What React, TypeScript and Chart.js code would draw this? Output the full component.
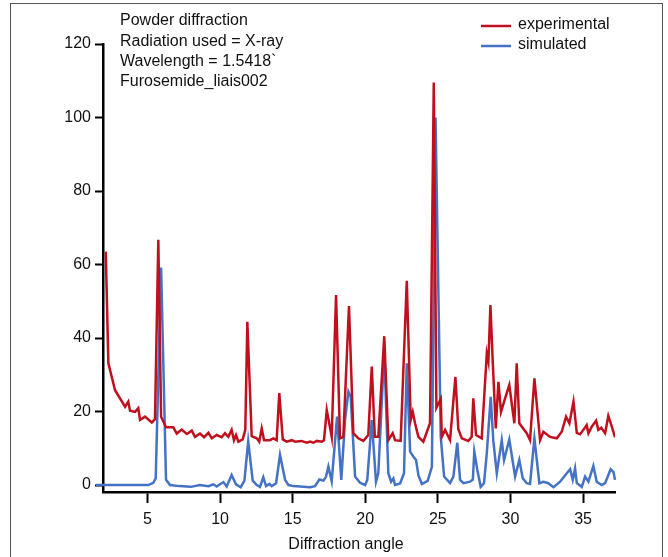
import React, { useEffect, useRef } from "react";
import { Chart, registerables } from "chart.js";

Chart.register(...registerables);

// ---- Data ----
const expX = [
  2.13, 2.31, 2.77, 3.46, 3.68, 3.8, 4.15, 4.37, 4.49, 4.83, 5.3, 5.52, 5.75, 5.94, 6.28, 6.78, 7.02, 7.36,
  7.71, 8.05, 8.28, 8.62, 8.9, 9.2, 9.43, 9.77, 10.11, 10.34, 10.57, 10.8, 10.96, 11.1, 11.26, 11.56, 11.74,
  11.88, 12.18, 12.53, 12.7, 12.87, 13.03, 13.44, 13.67, 13.9, 14.08, 14.32, 14.59, 14.94, 15.17, 15.6, 15.97,
  16.2, 16.43, 16.66, 17.0, 17.16, 17.35, 17.58, 17.69, 17.99, 18.26, 18.49, 18.88, 19.18, 19.52, 19.87,
  20.21, 20.45, 20.66, 20.9, 21.31, 21.59, 21.89, 22.05, 22.44, 22.86, 23.13, 23.27, 23.43, 23.66, 24.0,
  24.46, 24.72, 24.9, 25.2, 25.27, 25.5, 25.84, 26.21, 26.41, 26.65, 27.1, 27.33, 27.44, 27.63, 28.02, 28.37,
  28.48, 28.62, 28.78, 28.99, 29.17, 29.35, 29.63, 29.92, 30.27, 30.43, 30.61, 31.12, 31.35, 31.65, 32.04,
  32.27, 32.73, 33.19, 33.53, 33.83, 34.06, 34.34, 34.57, 34.8, 35.02, 35.25, 35.37, 35.6, 35.9, 36.05,
  36.25, 36.52, 36.74, 36.98, 37.2,
];
const expY = [
  63.5, 33.1, 25.8, 21.3, 22.7, 20.2, 19.9, 20.9, 17.7, 18.6, 17.0, 17.9, 66.7, 18.6, 15.7, 15.7, 14.0, 15.1,
  13.9, 14.8, 13.1, 14.0, 13.0, 14.2, 12.7, 13.6, 13.0, 14.1, 13.1, 15.0, 12.2, 13.6, 11.8, 12.4, 15.0,
  44.4, 13.3, 12.7, 11.8, 15.4, 12.2, 12.2, 12.7, 12.2, 25.0, 12.4, 11.8, 12.2, 11.8, 12.0, 11.5,
  11.8, 11.5, 12.0, 11.8, 12.2, 20.4, 15.5, 13.1, 51.7, 12.7, 13.1, 48.7, 14.1, 12.7, 12.0,
  13.6, 32.2, 13.1, 13.1, 40.5, 12.2, 14.1, 12.2, 12.0, 55.6, 17.7, 19.9, 16.8, 13.1, 11.8,
  16.8, 109.5, 21.0, 23.4, 13.1, 15.0, 12.2, 29.4, 15.2, 12.7, 12.0, 13.1, 23.6, 13.6, 12.7, 35.8,
  33.6, 49.0, 33.6, 15.4, 28.1, 19.9, 23.6, 27.2, 16.8, 33.1, 16.8, 14.1, 12.2, 29.0, 12.2,
  14.5, 13.1, 12.7, 14.5, 18.6, 16.8, 22.7, 14.2, 13.8, 15.0, 16.3, 14.1, 15.9, 17.5, 15.0,
  15.6, 14.1, 18.8, 15.9, 13.0,
];

const simX = [
  1.46, 5.06, 5.4, 5.57, 5.94, 6.28, 6.56, 7.2, 8.0, 8.6, 9.2, 9.54, 9.77, 10.23, 10.46, 10.8, 11.1, 11.42,
  11.68, 11.94, 12.25, 12.53, 12.75, 12.98, 13.17, 13.4, 13.56, 13.86, 14.13, 14.48, 14.71, 15.05, 16.2,
  16.54, 16.84, 17.12, 17.3, 17.46, 17.69, 18.06, 18.35, 18.61, 18.84, 19.0, 19.3, 19.64, 19.99, 20.14,
  20.45, 20.74, 20.9, 21.31, 21.59, 21.78, 21.94, 22.05, 22.4, 22.67, 22.86, 23.09, 23.32, 23.5, 23.66,
  23.9, 24.3, 24.59, 24.84, 25.2, 25.43, 25.84, 26.07, 26.34, 26.53, 26.76, 27.22, 27.41, 27.51, 27.72,
  27.95, 28.18, 28.37, 28.64, 28.82, 29.06, 29.4, 29.56, 29.92, 30.32, 30.61, 30.85, 31.12, 31.35, 31.65,
  31.99, 32.27, 32.61, 32.96, 33.42, 33.88, 34.11, 34.29, 34.45, 34.57, 34.91, 35.14, 35.37, 35.71, 35.94,
  36.29, 36.52, 36.9, 37.09, 37.2,
];
const simY = [
  0, 0, 0.6, 1.8, 59.2, 1.4, 0, -0.3, -0.5, 0, -0.3, 0.2, -0.4, 0.8, -0.4, 2.7, 0.2, -0.6,
  1.2, 11.9, 1.2, 0, -0.5, 2.1, -0.3, 0.3, -0.3, 0.5, 8.2, 1.4, 0, -0.3, -0.6,
  -0.3, 1.5, 1.2, 2.3, 5.0, 1.0, 18.6, 1.4, 17.7, 25.4, 24.0, 2.3, 0.6, 0, 1.4,
  17.7, 0.9, 3.2, 36.7, 3.2, 0.9, 1.8, 0, 0.4, 3.2, 33.1, 9.1, 7.7, 6.8, 2.7,
  0.3, 1.1, 5.0, 100, 13.1, 2.3, 0.5, 2.3, 11.5, 1.4, 0.5, 0.9, 1.5, 9.1, 4.1,
  -0.5, 0.5, 8.6, 24.0, 12.0, 3.2, 12.2, 6.8, 12.4, 2.3, 6.8, 1.8, 0.5, 0.3, 12.7,
  0.5, 0.9, 0.5, -0.6, 0.9, 3.2, 4.3, 1.4, 4.5, 0.5, -0.5, 2.3, 0.9, 5.2, 0.9,
  0, 0.5, 4.3, 3.6, 1.4,
];

const seriesLabels = ["experimental", "simulated"];
const seriesColors = ["#C0101E", "#4472C4"];
const xTicks = [5, 10, 15, 20, 25, 30, 35];
const yTicks = [0, 20, 40, 60, 80, 100, 120];
const annotationLines = [
  "Powder diffraction",
  "Radiation used = X-ray",
  "Wavelength = 1.5418`",
  "Furosemide_liais002",
];
const xAxisTitle = "Diffraction angle";

const FONT = "'Liberation Sans', Arial, Helvetica, sans-serif";
const TEXT = "#111111";

const overlayPlugin = {
  id: "overlayText",
  beforeDraw(chart: any) {
    const ctx = chart.ctx;
    ctx.save();
    ctx.fillStyle = "#ffffff";
    ctx.fillRect(0, 0, chart.width, chart.height);
    ctx.strokeStyle = "#555555";
    ctx.lineWidth = 1;
    ctx.strokeRect(10.5, 3.5, 652, 700);
    ctx.restore();
  },
  afterDraw(chart: any) {
    const ctx = chart.ctx;
    ctx.save();
    ctx.font = `16px ${FONT}`;
    ctx.fillStyle = TEXT;
    ctx.textBaseline = "middle";
    ctx.textAlign = "left";
    annotationLines.forEach((t, i) => {
      ctx.fillText(t, 120, 21 + i * 20.3);
    });
    // legend
    seriesLabels.forEach((label, i) => {
      const y = 26 + i * 20;
      ctx.strokeStyle = seriesColors[i];
      ctx.lineWidth = 2.5;
      ctx.beginPath();
      ctx.moveTo(481, y);
      ctx.lineTo(511, y);
      ctx.stroke();
      ctx.fillStyle = TEXT;
      ctx.fillText(label, 518, y - 1);
    });
    // x-axis title
    ctx.textAlign = "center";
    ctx.fillText(xAxisTitle, 346, 545);
    ctx.restore();
  },
};

export default function App() {
  const canvasRef = useRef<HTMLCanvasElement | null>(null);

  useEffect(() => {
    if (!canvasRef.current) return;
    const expData = expX.map((x, i) => ({ x, y: expY[i] }));
    const simData = simX.map((x, i) => ({ x, y: simY[i] }));
    const chart = new Chart(canvasRef.current, {
      type: "line",
      data: {
        datasets: [
          {
            label: seriesLabels[0],
            data: expData,
            borderColor: seriesColors[0],
            backgroundColor: seriesColors[0],
            borderWidth: 2.5,
            pointRadius: 0,
            tension: 0,
            borderJoinStyle: "miter",
          },
          {
            label: seriesLabels[1],
            data: simData,
            borderColor: seriesColors[1],
            backgroundColor: seriesColors[1],
            borderWidth: 2.5,
            pointRadius: 0,
            tension: 0,
            clip: false,
            borderJoinStyle: "miter",
          },
        ],
      },
      options: {
        responsive: false,
        animation: false,
        devicePixelRatio: 1,
        layout: { padding: { left: 0, right: 53, top: 44, bottom: 0 } },
        plugins: {
          legend: { display: false },
          tooltip: { enabled: false },
        },
        scales: {
          x: {
            type: "linear",
            min: 1.94,
            max: 37.2,
            afterBuildTicks: (s: any) => {
              s.ticks = xTicks.map((v) => ({ value: v }));
            },
            afterFit: (s: any) => {
              s.height = 65;
            },
            grid: {
              display: true,
              drawOnChartArea: false,
              drawTicks: true,
              tickLength: 11,
              tickWidth: 2,
              tickColor: "#000",
            },
            border: { display: true, color: "#000", width: 2.5 },
            ticks: {
              color: TEXT,
              font: { family: FONT, size: 16 },
              padding: 7,
              maxRotation: 0,
              autoSkip: false,
            },
            title: { display: false },
          },
          y: {
            type: "linear",
            min: -1.9,
            max: 120,
            afterBuildTicks: (s: any) => {
              s.ticks = yTicks.map((v) => ({ value: v }));
            },
            afterFit: (s: any) => {
              s.width = 103;
            },
            grid: {
              display: true,
              drawOnChartArea: false,
              drawTicks: true,
              tickLength: 8,
              tickWidth: 2,
              tickColor: "#000",
            },
            border: { display: true, color: "#000", width: 2.5 },
            ticks: {
              color: TEXT,
              font: { family: FONT, size: 16 },
              padding: 4,
              autoSkip: false,
            },
          },
        },
      },
      plugins: [overlayPlugin],
    });
    return () => chart.destroy();
  }, []);

  return (
    <div style={{ position: "fixed", left: 0, top: 0, width: 668, height: 557, background: "#fff" }}>
      <canvas ref={canvasRef} width={668} height={557} style={{ width: 668, height: 557, display: "block" }} />
    </div>
  );
}
